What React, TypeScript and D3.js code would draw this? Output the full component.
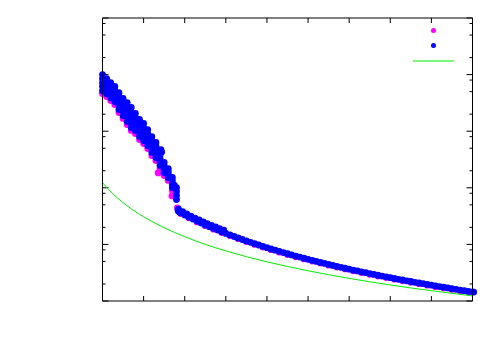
import React from "react";
import * as d3 from "d3";

// ---- data ----
const xTicks = [1, 2, 3, 4, 5, 6, 7, 8, 9, 10];
const yMajorTicks = [1, 10, 100, 1000, 10000, 100000];
const yMinorFactors = [2, 5, 8];

// noisy part: columns of x with several y values (series 2, blue)
const blueRoughX = [1.0, 1.1, 1.2, 1.3, 1.4, 1.5, 1.6, 1.7, 1.8, 1.9, 2.0, 2.1, 2.2, 2.3, 2.4, 2.5, 2.6, 2.7, 2.8];
const blueRoughY = [
  [10000, 8500, 7200, 6200, 5200],
  [8500, 7300, 6300, 5400, 4600],
  [7200, 6200, 5300, 4600, 3900],
  [6200, 5300, 4500, 3900, 3350],
  [4800, 4060, 3420, 2870, 2420],
  [3780, 3180, 2680, 2250, 1890],
  [3210, 2650, 2180, 1800, 1480],
  [2620, 2140, 1750, 1420, 1160],
  [2060, 1730, 1460, 1220, 1030],
  [1610, 1360, 1140, 958, 805],
  [1370, 1150, 968, 815, 685],
  [1070, 910, 773, 658, 558],
  [805, 685, 582, 494, 421],
  [631, 542, 466, 399, 343],
  [438, 379, 330, 286, 248],
  [280, 244, 213, 186],
  [219, 194, 172, 152],
  [152, 133, 116, 101],
  [101, 86, 73, 62],
];
const blueExtra: [number, number][] = [
  [2.42, 470], [2.44, 430], [1.35, 4300], [1.37, 3600],
  [1.05, 8000], [1.15, 6800], [1.25, 5600], [1.45, 3300], [1.55, 2700], [1.65, 2200],
  [1.75, 1700], [1.85, 1450], [1.95, 1100], [2.05, 900], [2.15, 720], [2.25, 520],
  [2.35, 400], [2.55, 205], [2.65, 150], [2.75, 110],
];

// smooth part (blue)
const blueSmooth: [number, number][] = [
  [2.84, 39.4], [2.87, 37.5],
  [2.9, 36.1], [3.0, 33.1], [3.1, 30.4], [3.2, 28.0], [3.3, 25.8], [3.4, 23.9], [3.5, 22.1],
  [3.6, 20.6], [3.7, 19.2], [3.8, 17.9], [3.9, 16.7], [4.0, 15.6], [4.1, 14.7], [4.2, 13.8],
  [4.3, 13.0], [4.4, 12.2], [4.5, 11.5], [4.6, 10.9], [4.7, 10.3], [4.8, 9.75], [4.9, 9.24],
  [5.0, 8.76], [5.1, 8.32], [5.2, 7.91], [5.3, 7.53], [5.4, 7.17], [5.5, 6.84], [5.6, 6.53],
  [5.7, 6.23], [5.8, 5.96], [5.9, 5.70], [6.0, 5.45], [6.1, 5.23], [6.2, 5.01], [6.3, 4.81],
  [6.4, 4.61], [6.5, 4.43], [6.6, 4.26], [6.7, 4.09], [6.8, 3.94], [6.9, 3.79], [7.0, 3.65],
  [7.1, 3.52], [7.2, 3.40], [7.3, 3.28], [7.4, 3.16], [7.5, 3.05], [7.6, 2.95], [7.7, 2.85],
  [7.8, 2.76], [7.9, 2.67], [8.0, 2.58], [8.1, 2.50], [8.2, 2.42], [8.3, 2.35], [8.4, 2.27],
  [8.5, 2.21], [8.6, 2.14], [8.7, 2.08], [8.8, 2.02], [8.9, 1.96], [9.0, 1.90], [9.1, 1.85],
  [9.2, 1.80], [9.3, 1.75], [9.4, 1.70], [9.5, 1.65], [9.6, 1.61], [9.7, 1.56], [9.8, 1.52],
  [9.9, 1.48], [10.0, 1.45], [10.03, 1.44],
  // upper spread near the jump
  [2.85, 42], [2.95, 38], [3.05, 34.5], [3.15, 31.6], [3.25, 29.2], [3.35, 27.0], [3.45, 25.0],
  [3.55, 23.3], [3.65, 21.7], [3.75, 20.3], [3.85, 19.0], [3.95, 17.8],
];

// series 1 (magenta)
const magentaPts: [number, number][] = [
  [1.0, 4630], [1.1, 4100], [1.2, 3490], [1.3, 2960], [1.4, 2140], [1.5, 1680], [1.6, 1310],
  [1.7, 1030], [1.8, 910], [1.9, 713], [2.0, 606], [2.1, 494], [2.2, 372], [2.3, 303],
  [2.355, 183], [2.4, 219], [2.5, 165], [2.6, 135], [2.69, 72], [2.7, 90], [2.82, 44],
  [2.9, 35.0], [3.1, 29.5], [3.3, 25.0], [3.5, 21.4], [3.7, 18.6], [3.9, 16.2], [4.1, 14.3],
  [4.3, 12.6], [4.5, 11.2], [4.7, 9.99], [4.9, 8.96], [5.1, 8.07], [5.3, 7.30], [5.5, 6.63],
  [5.7, 6.04], [5.9, 5.53], [6.1, 5.07], [6.3, 4.67], [6.5, 4.30], [6.7, 3.97], [6.9, 3.68],
  [7.1, 3.41], [7.3, 3.18], [7.5, 2.96], [7.7, 2.76], [7.9, 2.59], [8.1, 2.43], [8.3, 2.28],
  [8.5, 2.14], [8.7, 2.02], [8.9, 1.90], [9.1, 1.79], [9.3, 1.70], [9.5, 1.60], [9.7, 1.51],
  [9.9, 1.44],
];

// series 3 (green line)
const greenX = [1, 1.25, 1.5, 1.75, 2, 2.5, 3, 3.5, 4, 4.5, 5, 6, 7, 8, 9, 10];
const greenY = [123, 78.7, 54.7, 40.2, 30.8, 19.7, 13.7, 10.0, 7.69, 6.07, 4.92, 3.42, 2.51, 1.92, 1.52, 1.23];

const MAGENTA = "#ff00ff";
const BLUE = "#0000ff";
const GREEN = "#00ee00";

export default function App() {
  const W = 500, H = 350;
  const L = 102.5, R = 472.5, T = 18, B = 301;
  const x = d3.scaleLinear().domain([1, 10]).range([L, R]);
  const y = d3.scaleLog().domain([1, 100000]).range([B, T]);

  const minorTicks: number[] = [];
  yMajorTicks.slice(0, -1).forEach((m) => yMinorFactors.forEach((f) => minorTicks.push(m * f)));

  const bluePts: [number, number][] = [];
  blueRoughX.forEach((xv, i) => blueRoughY[i].forEach((yv) => bluePts.push([xv, yv])));
  blueExtra.forEach((p) => bluePts.push(p));
  blueSmooth.forEach((p) => bluePts.push(p));

  const line = d3
    .line<number>()
    .x((_, i) => x(greenX[i]))
    .y((d) => y(d))
    .curve(d3.curveMonotoneX);

  const r = 3.4;
  return (
    <svg width={W} height={H} style={{ position: "absolute", left: 0, top: 0 }}>
      <rect x={0} y={0} width={W} height={H} fill="#fff" />
      {/* ticks */}
      {xTicks.map((t) => (
        <g key={"xt" + t}>
          <line x1={x(t)} x2={x(t)} y1={B} y2={B - 5} stroke="#000" />
          <line x1={x(t)} x2={x(t)} y1={T} y2={T + 5} stroke="#000" />
        </g>
      ))}
      {yMajorTicks.map((t) => (
        <g key={"ym" + t}>
          <line x1={L} x2={L + 6} y1={y(t)} y2={y(t)} stroke="#000" />
          <line x1={R} x2={R - 6} y1={y(t)} y2={y(t)} stroke="#000" />
        </g>
      ))}
      {minorTicks.map((t) => (
        <g key={"yn" + t}>
          <line x1={L} x2={L + 3} y1={y(t)} y2={y(t)} stroke="#000" />
          <line x1={R} x2={R - 3} y1={y(t)} y2={y(t)} stroke="#000" />
        </g>
      ))}
      {/* series */}
      {magentaPts.map((p, i) => (
        <circle key={"m" + i} cx={x(p[0])} cy={y(p[1])} r={r} fill={MAGENTA} />
      ))}
      {bluePts.map((p, i) => (
        <circle key={"b" + i} cx={x(p[0])} cy={y(p[1])} r={r} fill={BLUE} />
      ))}
      <path d={line(greenY) || ""} fill="none" stroke={GREEN} strokeWidth={1} />
      {/* frame */}
      <line x1={L} x2={R} y1={T} y2={T} stroke="#000" />
      <line x1={L} x2={L} y1={T} y2={B} stroke="#000" />
      <line x1={R} x2={R} y1={T} y2={B} stroke="#000" />
      <line x1={L} x2={R} y1={B} y2={B} stroke="#000" />
      {/* legend */}
      <circle cx={433.5} cy={30.5} r={2.5} fill={MAGENTA} />
      <circle cx={433.5} cy={45.5} r={2.5} fill={BLUE} />
      <line x1={413} x2={454} y1={61} y2={61} stroke={GREEN} />
    </svg>
  );
}
